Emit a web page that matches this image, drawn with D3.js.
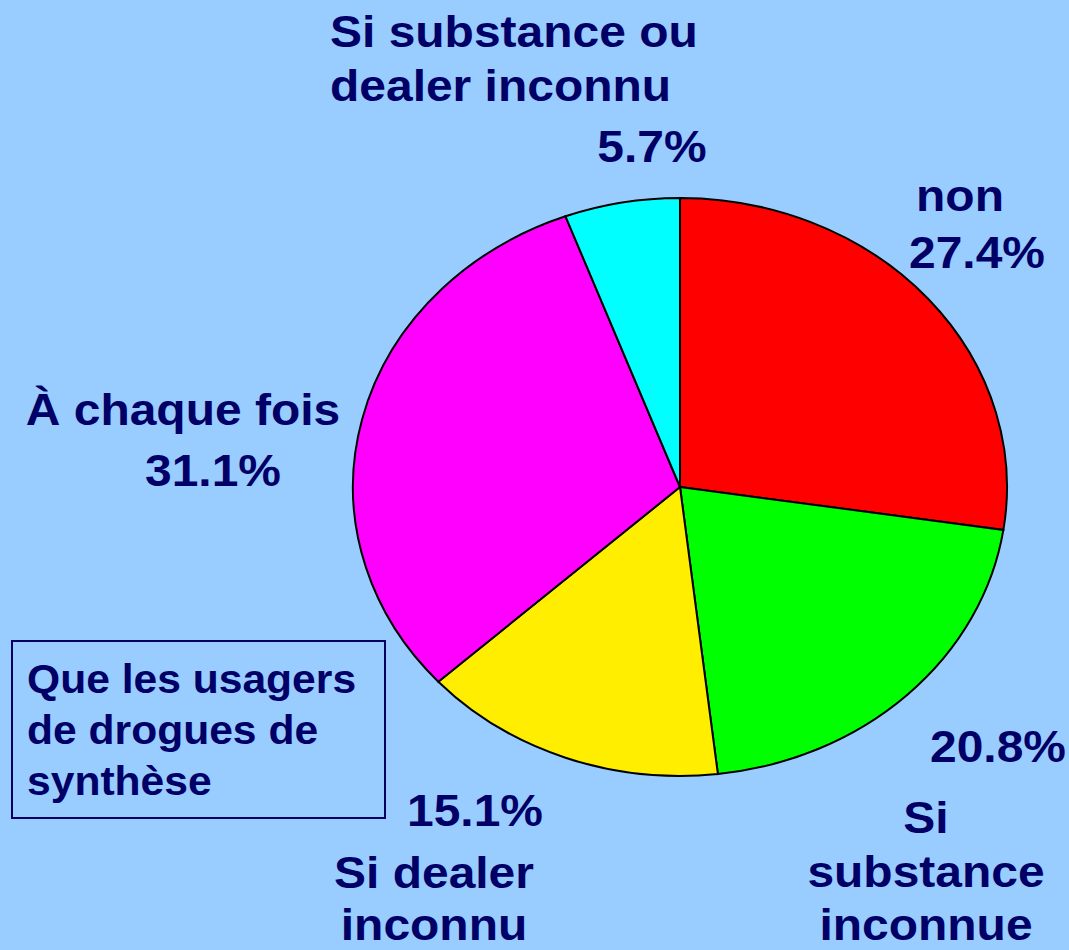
<!DOCTYPE html>
<html>
<head>
<meta charset="utf-8">
<script src="https://cdn.jsdelivr.net/npm/d3@7"></script>
<style>
body { margin:0; background:#99ccff; }
svg text { font-family:"Liberation Sans", Arial, sans-serif; font-weight:bold; fill:#000066; }
</style>
</head>
<body>
<svg></svg>
<script>
var categories = ["non","Si substance inconnue","Si dealer inconnu","À chaque fois","Si substance ou dealer inconnu"]
var values = [27.4,20.8,15.1,31.1,5.7]
var colors = ["#ff0000","#00ff00","#ffee00","#ff00ff","#00ffff"]
var labelLines = [["non"],["Si","substance","inconnue"],["Si dealer","inconnu"],["À chaque fois"],["Si substance ou","dealer inconnu"]]
var boxLines = ["Que les usagers","de drogues de","synthèse"]

var screen = {width:1069,height:950}
var center = {x:680,y:487}
var rx = 327, ry = 289

var svg = d3.select("svg")
    .attr("width",screen.width)
    .attr("height",screen.height)

svg.append("rect")
    .attr("width",screen.width)
    .attr("height",screen.height)
    .attr("fill","#99ccff")

var pie = d3.pie().sort(null).value(function(d){ return d })
var arc = d3.arc().innerRadius(0).outerRadius(rx)

var slices = pie(values)

svg.append("g")
    .attr("transform","translate("+center.x+","+center.y+") scale(1,"+(ry/rx)+")")
    .selectAll("path")
    .data(slices)
    .enter()
    .append("path")
    .attr("d",arc)
    .attr("fill",function(d,i){ return colors[i] })
    .attr("stroke","#000")
    .attr("stroke-width",2)
    .attr("vector-effect","non-scaling-stroke")

// label placement: [x, first baseline, anchor] for names, and for percentages
var namePos = [[960,211,"middle"],[926,833,"middle"],[434,888,"middle"],[183,425,"middle"],[330,47,"start"]]
var pctPos = [[977,268],[998,762],[475,826],[213,486],[652,162]]
var lineH = 54
var sx = 1.09

var fmt = function(v){ return v.toFixed(1)+"%" }

labelLines.forEach(function(lines,i)
{
    var t = svg.append("text")
        .attr("text-anchor",namePos[i][2])
        .attr("transform","translate("+namePos[i][0]+","+namePos[i][1]+") scale("+sx+",1)")
        .style("font-size","44px")
    lines.forEach(function(l,j)
    {
        t.append("tspan")
            .attr("x",0)
            .attr("y",Math.min(j*lineH,940-namePos[i][1]))
            .text(l)
    })
    svg.append("text")
        .attr("transform","translate("+pctPos[i][0]+","+pctPos[i][1]+") scale("+sx+",1)")
        .attr("text-anchor","middle")
        .style("font-size","44px")
        .text(fmt(values[i]))
})

svg.append("rect")
    .attr("x",12)
    .attr("y",641)
    .attr("width",373)
    .attr("height",177)
    .attr("fill","none")
    .attr("stroke","#000066")
    .attr("stroke-width",2)

var bt = svg.append("text")
    .attr("transform","translate(27,693) scale(1.065,1)")
    .style("font-size","40px")
boxLines.forEach(function(l,j)
{
    bt.append("tspan")
        .attr("x",0)
        .attr("y",j*51)
        .text(l)
})
</script>
</body>
</html>
